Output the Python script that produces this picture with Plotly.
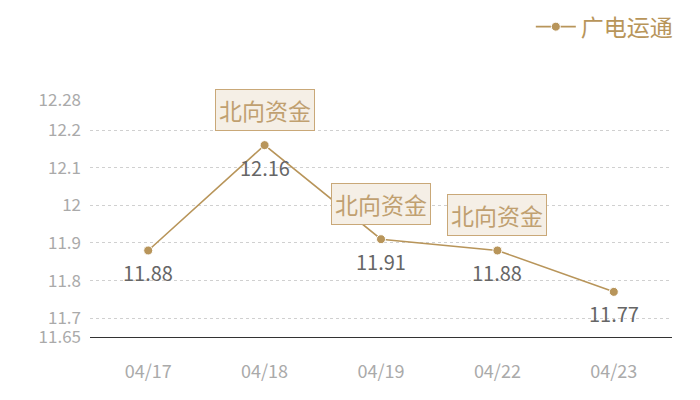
import plotly.graph_objects as go

dates = ["04/17", "04/18", "04/19", "04/22", "04/23"]
prices = [11.88, 12.16, 11.91, 11.88, 11.77]
y_ticks = [11.65, 11.7, 11.8, 11.9, 12, 12.1, 12.2, 12.28]
y_tick_text = ["11.65", "11.7", "11.8", "11.9", "12", "12.1", "12.2", "12.28"]
note_dates = ["04/18", "04/19", "04/22"]
note_label = "北向资金"

gold = "#b8955a"
font = "Noto Sans CJK SC, Open Sans, sans-serif"

fig = go.Figure()
fig.add_trace(go.Scatter(
    x=dates, y=prices, name="广电运通",
    mode="lines+markers",
    line=dict(color=gold, width=1.6),
    marker=dict(color=gold, size=9, line=dict(color="white", width=1)),
    cliponaxis=False,
))

# value labels under each point
for d, p in zip(dates, prices):
    fig.add_annotation(
        x=d, y=p, xref="x", yref="y", text=f"{p:.2f}",
        showarrow=False, yshift=-22,
        font=dict(color="#666666", size=20, family=font),
    )

for d in note_dates:
    fig.add_annotation(
        x=d, y=prices[dates.index(d)], xref="x", yref="y",
        text=note_label, showarrow=False, yshift=35,
        font=dict(color="#c0a070", size=23, family=font),
        bgcolor="#f5efe6", bordercolor="#c9a878", borderwidth=1, borderpad=3,
    )

fig.update_layout(
    width=700, height=400,
    margin=dict(l=82, r=36, t=92, b=71, autoexpand=False),
    plot_bgcolor="white", paper_bgcolor="white",
    font=dict(family=font),
    showlegend=True,
    legend=dict(x=1.01, xanchor="right",
                y=1.40, yanchor="top",
                orientation="h", font=dict(color=gold, size=23, family=font),
                itemwidth=40),
    xaxis=dict(type="category", range=[-0.5, 4.5], showgrid=False, showline=True,
               linecolor="#333333", linewidth=1, ticks="", ticklabelstandoff=18,
               tickfont=dict(color="#aaaaaa", size=18, family=font)),
    yaxis=dict(range=[11.65, 12.28], tickvals=y_ticks, ticktext=y_tick_text,
               showgrid=True, gridcolor="#d0d0d0", griddash="dot",
               zeroline=False, showline=False, ticks="", ticklabelstandoff=8,
               tickfont=dict(color="#aaaaaa", size=17, family=font)),
)

fig.write_html("out.html")
